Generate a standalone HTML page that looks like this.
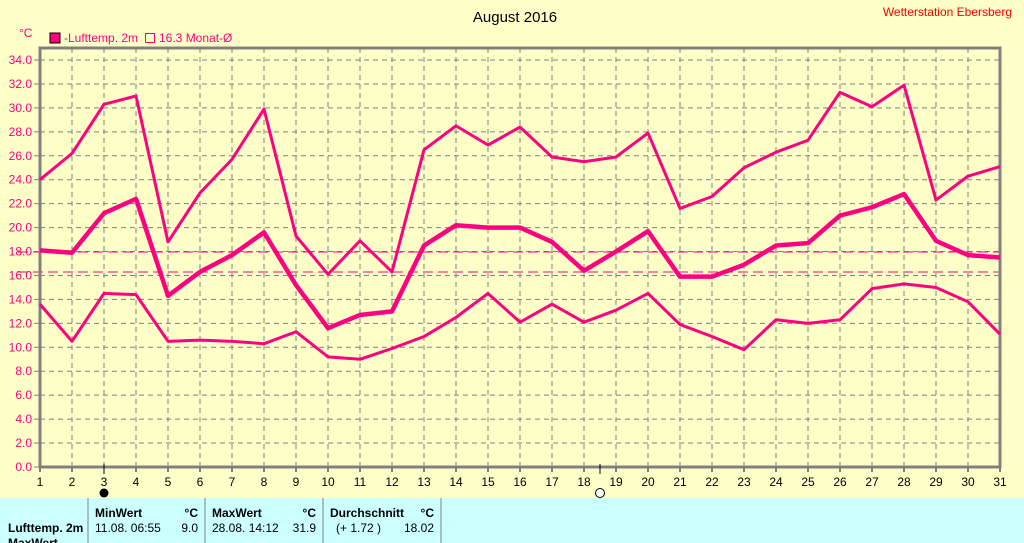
<!DOCTYPE html>
<html><head><meta charset="utf-8"><style>
body{margin:0;width:1024px;height:543px;overflow:hidden;background:#ffffc8;font-family:"Liberation Sans",sans-serif;}
svg{position:absolute;left:0;top:0}
</style></head><body>
<svg width="1024" height="543" xmlns="http://www.w3.org/2000/svg" font-family="Liberation Sans, sans-serif">
<rect width="1024" height="543" fill="#ffffc8"/>
<g id="grid" stroke="#808080" stroke-dasharray="5,4" stroke-width="1"></g>
<g id="ylab" fill="#ff0080" font-size="12" text-anchor="end"></g>
<g id="xlab" fill="#000" font-size="12" text-anchor="middle"></g>
<line x1="18" y1="252" x2="1000" y2="252" stroke="#ff0080" stroke-dasharray="10,5" stroke-width="1"/>
<line x1="18" y1="272" x2="1000" y2="272" stroke="#ff0080" stroke-dasharray="10,5" stroke-width="1"/>
<path d="M40,48V467H1000V48Z" fill="none" stroke="#808080" stroke-width="3"/>
<g id="series" fill="none" stroke="#ff0080" stroke-linejoin="round"></g>
<line x1="104" y1="464" x2="104" y2="474" stroke="#000"/>
<line x1="600" y1="464" x2="600" y2="474" stroke="#000"/>
<circle cx="104" cy="493" r="4.5" fill="#000"/>
<circle cx="600" cy="493" r="4.5" fill="#fff" stroke="#000"/>
<text x="515" y="22" font-size="15" text-anchor="middle">August 2016</text>
<text x="1012" y="16" font-size="12" fill="#ff0000" text-anchor="end">Wetterstation Ebersberg</text>
<text x="19" y="37" font-size="12" fill="#ff0080">°C</text>
<rect x="50" y="33" width="10" height="10" fill="#ff0080" stroke="#000"/>
<text x="64" y="42" font-size="12" fill="#ff0080">-Lufttemp. 2m</text>
<rect x="145.5" y="33.5" width="9" height="9" fill="none" stroke="#ff0080"/>
<text x="159" y="42" font-size="12" fill="#ff0080">16.3 Monat-Ø</text>
<rect x="0" y="498" width="1024" height="45" fill="#ccffff"/>
<g stroke="#808080"><line x1="88" y1="498" x2="88" y2="543"/><line x1="205" y1="498" x2="205" y2="543"/><line x1="323" y1="498" x2="323" y2="543"/><line x1="441" y1="498" x2="441" y2="543"/></g>
<g font-size="12" fill="#000">
<text x="95" y="517" font-weight="bold">MinWert</text><text x="198" y="517" font-weight="bold" text-anchor="end">°C</text>
<text x="212" y="517" font-weight="bold">MaxWert</text><text x="316" y="517" font-weight="bold" text-anchor="end">°C</text>
<text x="330" y="517" font-weight="bold">Durchschnitt</text><text x="434" y="517" font-weight="bold" text-anchor="end">°C</text>
<text x="8" y="532" font-weight="bold">Lufttemp. 2m</text>
<text x="95" y="532">11.08.  06:55</text><text x="198" y="532" text-anchor="end">9.0</text>
<text x="212" y="532">28.08.  14:12</text><text x="316" y="532" text-anchor="end">31.9</text>
<text x="336" y="532">(+ 1.72 )</text><text x="434" y="532" text-anchor="end">18.02</text>
<text x="8" y="547" font-weight="bold">MaxWert</text>
</g>
</svg>
<script>
const ns="http://www.w3.org/2000/svg";
const X=d=>40+(d-1)*32, Y=v=>467-v*11.97;
const g=document.getElementById('grid'),yl=document.getElementById('ylab'),xl=document.getElementById('xlab'),s=document.getElementById('series');
function el(p,t,a){const e=document.createElementNS(ns,t);for(const k in a)e.setAttribute(k,a[k]);p.appendChild(e);return e;}
for(let v=0;v<=34;v+=2){const y=Y(v);if(v>0)el(g,'line',{x1:40,y1:y,x2:1000,y2:y});el(g,'line',{x1:34,y1:y,x2:40,y2:y,'stroke-dasharray':'none'});const t=el(yl,'text',{x:32,y:y+4});t.textContent=v.toFixed(1);}
for(let d=1;d<=31;d++){const x=X(d);if(d>1&&d<31)el(g,'line',{x1:x,y1:48,x2:x,y2:467});el(g,'line',{x1:x,y1:467,x2:x,y2:472,'stroke-dasharray':'none',stroke:'#000'});const t=el(xl,'text',{x:x,y:486});t.textContent=d;}
const mx=[24.0,26.2,30.3,31.0,18.8,22.9,25.7,29.9,19.3,16.1,18.9,16.3,26.5,28.5,26.9,28.4,25.9,25.5,25.9,27.9,21.6,22.6,25.0,26.3,27.3,31.3,30.1,31.9,22.3,24.3,25.1];
const av=[18.1,17.9,21.2,22.4,14.3,16.3,17.7,19.6,15.2,11.6,12.7,13.0,18.5,20.2,20.0,20.0,18.8,16.4,18.0,19.7,15.9,15.9,16.9,18.5,18.7,21.0,21.7,22.8,18.9,17.7,17.5];
const mn=[13.6,10.5,14.5,14.4,10.5,10.6,10.5,10.3,11.3,9.2,9.0,9.9,10.9,12.5,14.5,12.1,13.6,12.1,13.1,14.5,11.9,10.9,9.8,12.3,12.0,12.3,14.9,15.3,15.0,13.8,11.1];
[[mx,3],[av,4.5],[mn,3]].forEach(([a,w])=>el(s,'polyline',{points:a.map((v,i)=>X(i+1)+','+Y(v)).join(' '),'stroke-width':w}));
</script>
</body></html>
